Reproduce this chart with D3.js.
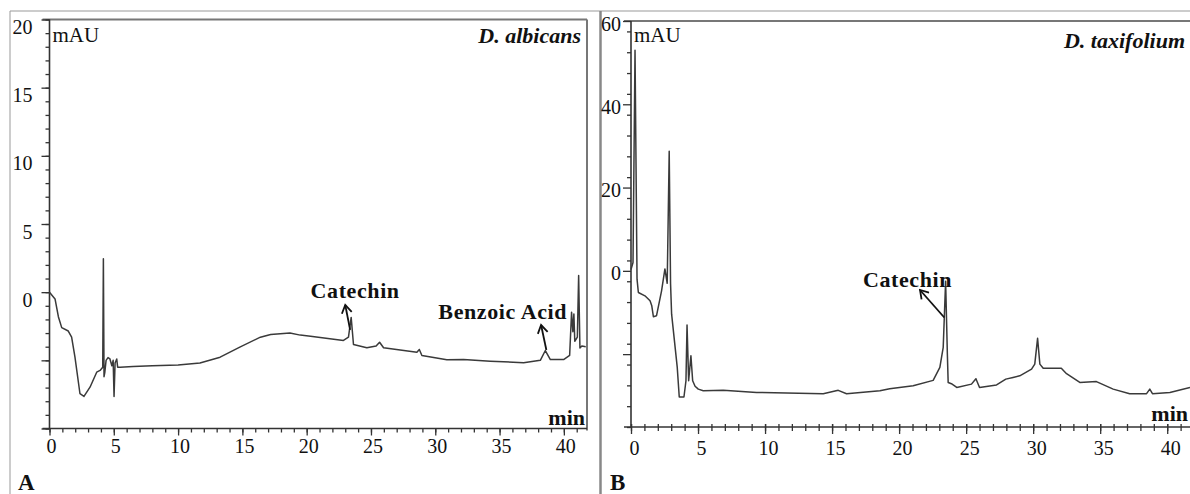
<!DOCTYPE html>
<html>
<head>
<meta charset="utf-8">
<script src="https://cdn.jsdelivr.net/npm/d3@7"></script>
<style>
body { margin: 0; background: #fff; }
svg text { font-family: "Liberation Serif", "Times New Roman", serif; fill: #111; }
</style>
</head>
<body>
<svg id="chart" width="1190" height="494"></svg>
<script>
// panel A - D. albicans (time in min, signal in mAU)
const timeA = [0, 0.43, 0.69, 0.95, 1.46, 1.72, 1.98, 2.37, 2.68, 3.15, 3.67, 3.93, 4.14, 4.19, 4.24, 4.3, 4.4, 4.55, 4.7, 4.85, 4.95, 5.02, 5.1, 5.23, 5.3, 5.49, 6.5, 8, 10, 11.7, 13.27, 14.8, 16.4, 17.2, 18.7, 19.5, 20.3, 22.86, 23.25, 23.46, 23.64, 24.68, 25.4, 25.67, 25.98, 28.57, 28.76, 28.96, 30.9, 32.2, 34.28, 36.87, 38.17, 38.56, 38.95, 39.98, 40.45, 40.6, 40.7, 40.78, 40.85, 41.05, 41.15, 41.25, 41.4, 41.7];
const signalA = [0, -0.5, -1.8, -2.6, -2.85, -3.3, -4.77, -7.45, -7.65, -6.97, -5.87, -5.74, -5.5, 2.45, -6.2, -5.9, -5.0, -4.8, -4.9, -5.4, -5.0, -7.65, -5.2, -4.9, -5.5, -5.5, -5.45, -5.4, -5.35, -5.2, -4.77, -4.03, -3.3, -3.1, -3.0, -3.15, -3.23, -3.54, -3.3, -1.85, -3.84, -4.08, -3.95, -3.67, -4.08, -4.4, -4.2, -4.64, -4.96, -4.94, -5.06, -5.18, -5.0, -4.28, -4.94, -4.94, -4.64, -1.47, -2.9, -1.6, -3.6, -3.3, 1.22, -4.1, -3.95, -4.0];

// panel B - D. taxifolium
const timeB = [0, 0.15, 0.3, 0.45, 0.55, 1.04, 1.42, 1.55, 1.67, 1.9, 2.28, 2.53, 2.7, 2.85, 2.95, 3.03, 3.45, 3.6, 3.95, 4.1, 4.18, 4.3, 4.47, 4.6, 4.78, 5.02, 5.39, 6.88, 9.37, 14.34, 15.46, 16.08, 18.57, 19.3, 21.05, 22.54, 23.04, 23.29, 23.47, 23.6, 23.66, 23.9, 24.3, 25.4, 25.73, 26.0, 27.27, 27.96, 28.5, 29.0, 29.88, 30.12, 30.33, 30.5, 30.75, 32.1, 32.49, 33.48, 34.72, 35.97, 37.2, 38.46, 38.7, 38.9, 40.2, 41.7];
const signalB = [0.3, 2, 53, -2, -5.2, -6.0, -7.2, -8.4, -11.0, -10.8, -4.8, 0.45, -3.0, 28.7, -3, -10.4, -23.2, -30.3, -30.3, -26.4, -13.0, -26.4, -20.4, -26.4, -27.7, -28.4, -28.8, -28.7, -29.2, -29.5, -28.7, -29.5, -28.8, -28.3, -27.6, -26.3, -23.2, -18.4, -2.5, -20, -26.8, -27.1, -28.0, -27.2, -25.9, -28.0, -27.4, -26.0, -25.6, -25.2, -23.6, -22.4, -16.2, -22.4, -23.4, -23.4, -24.7, -26.8, -26.6, -28.4, -29.5, -29.5, -28.4, -29.5, -29.2, -28.0];

// axis ticks
const xTicks = [0, 5, 10, 15, 20, 25, 30, 35, 40];
const yTicksA = [-10, -5, 0, 5, 10, 15, 20];
const yTicksB = [-20, 0, 20, 40, 60];

// peak annotations: label position and arrow tail -> head (data coords)
const namesA = ["Catechin", "Benzoic Acid"];
const labelA = [[23.77, -0.43], [35.25, -1.97]];
const arrowA = [[[23.38, -2.77], [23.0, -0.94]], [[38.64, -4.24], [38.23, -2.41]]];
const namesB = ["Catechin"];
const labelB = [[20.63, -3.9]];
const arrowB = [[[23.37, -11.2], [21.56, -4.6]]];

const svg = d3.select("#chart");

svg.append("defs").append("marker")
    .attr("id", "head")
    .attr("viewBox", "-10 -6 12 12")
    .attr("markerWidth", 12).attr("markerHeight", 12)
    .attr("markerUnits", "userSpaceOnUse")
    .attr("orient", "auto")
    .append("path")
    .attr("d", "M-8,-5L0,0L-8,5")
    .attr("fill", "none").attr("stroke", "#111").attr("stroke-width", 1.8);

// outer frame and separator
svg.append("line").attr("x1", 10).attr("x2", 1190).attr("y1", 11).attr("y2", 11)
    .attr("stroke", "#999").attr("stroke-width", 1);
svg.append("line").attr("x1", 10).attr("x2", 10).attr("y1", 11).attr("y2", 494)
    .attr("stroke", "#999").attr("stroke-width", 1);
svg.append("line").attr("x1", 600.5).attr("x2", 600.5).attr("y1", 11).attr("y2", 494)
    .attr("stroke", "#888").attr("stroke-width", 2.5);

function drawPanel(p) {
    const g = svg.append("g");
    const [x0, x1] = p.x.range(), [y0, y1] = p.y.range();

    // frame top / right
    g.append("line").attr("x1", x0 - 7).attr("x2", x1).attr("y1", y1).attr("y2", y1)
        .attr("stroke", "#777").attr("stroke-width", 2);
    if (p.rightBorder) {
        g.append("line").attr("x1", x1).attr("x2", x1).attr("y1", y1).attr("y2", y0 + 2)
            .attr("stroke", "#777").attr("stroke-width", 2);
    }

    // x axis minor + major
    g.append("g").attr("transform", `translate(0,${y0})`)
        .call(d3.axisBottom(p.x).tickValues(d3.range(0, p.x.domain()[1], 1)).tickSize(4).tickFormat(""))
        .call(a => a.select(".domain").remove());
    const xa = g.append("g").attr("transform", `translate(0,${y0})`)
        .call(d3.axisBottom(p.x).tickValues(xTicks).tickSize(7).tickFormat(d3.format("d")))
        .call(a => a.select(".domain").remove());
    xa.selectAll(".tick text").attr("y", p.xLabelY - y0).attr("dy", 0).attr("dx", p.xLabelDx)
        .style("font-size", "20px").style("font-family", "Liberation Serif").attr("fill", "#111");
    g.selectAll(".tick line").attr("stroke", "#333").attr("stroke-width", 1.3);
    if (p.crossTicks) g.selectAll(".tick line").attr("y1", -3);

    // y axis minor + major
    g.append("g").attr("transform", `translate(${x0},0)`)
        .call(d3.axisLeft(p.y).tickValues(d3.range(p.y.domain()[0], p.y.domain()[1] + 0.1, p.yMinor)).tickSize(4).tickFormat(""))
        .call(a => a.select(".domain").remove())
        .selectAll("line").attr("stroke", "#333").attr("stroke-width", 1.3);
    const ya = g.append("g").attr("transform", `translate(${x0},0)`)
        .call(d3.axisLeft(p.y).tickValues(p.yTicks).tickSize(8).tickPadding(p.yPad)
            .tickFormat(d => d < 0 ? "" : d))
        .call(a => a.select(".domain").remove());
    ya.selectAll("line").attr("stroke", "#333").attr("stroke-width", 1.3);
    ya.selectAll("text").attr("dy", p.yLabelDy).style("font-size", "20px")
        .style("font-family", "Liberation Serif").attr("fill", "#111");

    // axis lines
    g.append("line").attr("x1", x0 - 7).attr("x2", x1).attr("y1", y0).attr("y2", y0)
        .attr("stroke", "#333").attr("stroke-width", 1.6);
    g.append("line").attr("x1", x0).attr("x2", x0).attr("y1", y1).attr("y2", y0)
        .attr("stroke", "#333").attr("stroke-width", 1.6);

    // trace
    const pts = p.time.map((t, i) => [t, p.signal[i]]);
    g.append("path").datum(pts)
        .attr("d", d3.line().x(d => p.x(d[0])).y(d => p.y(d[1])))
        .attr("fill", "none").attr("stroke", "#3a3a3a").attr("stroke-width", 1.5)
        .attr("stroke-linejoin", "round");

    // annotations
    p.names.forEach((n, i) => {
        g.append("text").attr("x", p.x(p.labels[i][0])).attr("y", p.y(p.labels[i][1]))
            .attr("text-anchor", "middle").style("font-size", "22px").style("font-weight", "bold")
            .style("letter-spacing", "0.6px").text(n);
        const [a, b] = p.arrows[i];
        g.append("line").attr("x1", p.x(a[0])).attr("y1", p.y(a[1]))
            .attr("x2", p.x(b[0])).attr("y2", p.y(b[1]))
            .attr("stroke", "#111").attr("stroke-width", 1.8).attr("marker-end", "url(#head)");
    });

    // texts
    g.append("text").attr("x", x0 + 3).attr("y", 42).style("font-size", "21px").text("mAU");
    g.append("text").attr("x", p.titleX).attr("y", p.titleY).attr("text-anchor", "end")
        .style("font-size", "22px").style("font-weight", "bold").style("font-style", "italic")
        .text(p.title);
    g.append("text").attr("x", p.minX).attr("y", p.minY).attr("text-anchor", "end")
        .style("font-size", "22px").style("font-weight", "bold").text("min");
    g.append("text").attr("x", p.letterX).attr("y", 490).style("font-size", "23px")
        .style("font-weight", "bold").text(p.letter);
}

drawPanel({
    x: d3.scaleLinear().domain([0, 41.8]).range([49.5, 587]),
    y: d3.scaleLinear().domain([-10, 20]).range([428.5, 19.5]),
    time: timeA, signal: signalA, yTicks: yTicksA, yMinor: 1,
    yPad: 9, yLabelDy: "0.7em", xLabelY: 453, xLabelDx: 1.5, crossTicks: false,
    rightBorder: true, names: namesA, labels: labelA, arrows: arrowA,
    title: "D. albicans", titleX: 581, titleY: 43, minX: 585, minY: 425,
    letter: "A", letterX: 18
});

drawPanel({
    x: d3.scaleLinear().domain([0, 41.7]).range([631, 1190]),
    y: d3.scaleLinear().domain([-37.5, 60]).range([427, 21]),
    time: timeB, signal: signalB, yTicks: yTicksB, yMinor: 5,
    yPad: 2, yLabelDy: "0.45em", xLabelY: 455, xLabelDx: 3, crossTicks: true,
    rightBorder: false, names: namesB, labels: labelB, arrows: arrowB,
    title: "D. taxifolium", titleX: 1185, titleY: 48, minX: 1188, minY: 421,
    letter: "B", letterX: 610
});
</script>
</body>
</html>
